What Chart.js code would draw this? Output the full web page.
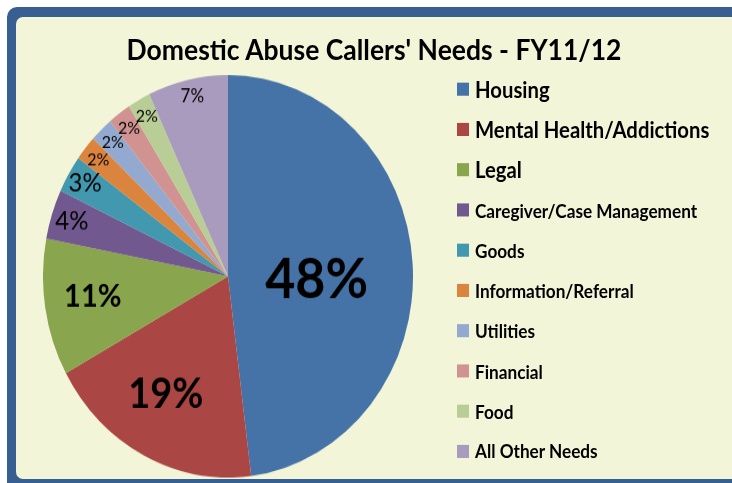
<!DOCTYPE html>
<html>
<head>
<meta charset="utf-8">
<title>Domestic Abuse Callers' Needs - FY11/12</title>
<script src="https://cdn.jsdelivr.net/npm/chart.js@4.4.1/dist/chart.umd.min.js"></script>
<style>
    html, body { margin: 0; padding: 0; width: 732px; height: 483px; overflow: hidden; background: #fff; }
    #frame { position: absolute; left: 7px; top: 7px; right: -12px; bottom: -12px; background: #375f91; border-radius: 10px; }
    #panel { position: absolute; left: 16px; top: 17px; right: -12px; bottom: 4px; background: #f3f5d8; border-radius: 7px; }
    /* the reference is stretched a little in height, so the whole drawing is too */
    #stage { position: absolute; left: 0; top: 0; width: 732px; height: 444px; transform-origin: 0 0; transform: scaleY(1.0878); font-family: Lato, sans-serif; }
    #title { position: absolute; left: 74px; width: 600px; top: 29.7px; text-align: center; font-weight: bold; font-size: 26.5px; line-height: 1.2; color: #000; }
    #pieWrap { position: absolute; left: 43px; top: 69px; width: 370px; height: 370px; }
    #legend { position: absolute; left: 457px; top: 64px; }
    .row { height: 36.96px; display: flex; align-items: center; line-height: 1; font-weight: bold; color: #000; white-space: nowrap; }
    .box { width: 12px; height: 12px; margin-right: 6px; flex: none; }
</style>
</head>
<body>
<div id="frame"></div>
<div id="panel"></div>
<div id="stage">
    <div id="title">Domestic Abuse Callers' Needs - FY11/12</div>
    <div id="pieWrap"><canvas id="pieChart"></canvas></div>
    <div id="legend"></div>
</div>
<script>
const categories = ['Housing', 'Mental Health/Addictions', 'Legal', 'Caregiver/Case Management', 'Goods',
    'Information/Referral', 'Utilities', 'Financial', 'Food', 'All Other Needs'];
const shares = [48, 19, 11, 4, 3, 2, 2, 2, 2, 7];

// styling
const sliceColors = ['#4572a7', '#aa4643', '#89a54e', '#71588f', '#4198af', '#db843d', '#93a9cf', '#d19392', '#b9cd96', '#a99bbd'];
const labelSizes = [52, 38, 29, 24, 24, 16, 16, 16, 16, 17];
const labelNudge = [[0, 9], [-5, -3], [0, -3], [4, 1], [2, 0], [0, 0], [0, 0], [0, 0], [0, 0], [1, -1]];
const legendSizes = [20.3, 20.3, 20.3, 17.2, 17.2, 17.2, 17.2, 17.2, 17.2, 17.2];

// percent labels inside the slices
const sliceLabels = {
    id: 'sliceLabels',
    afterDatasetsDraw(chart) {
        const ctx = chart.ctx;
        const meta = chart.getDatasetMeta(0);
        ctx.save();
        ctx.textAlign = 'center';
        ctx.textBaseline = 'middle';
        ctx.fillStyle = '#000';
        meta.data.forEach((arc, i) => {
            const { x, y, startAngle, endAngle, outerRadius } =
                arc.getProps(['x', 'y', 'startAngle', 'endAngle', 'outerRadius'], true);
            const mid = (startAngle + endAngle) / 2;
            const v = shares[i];
            const frac = v >= 40 ? 0.48 : v >= 15 ? 0.68 : v >= 10 ? 0.74 : 0.91;
            const px = x + Math.cos(mid) * outerRadius * frac + labelNudge[i][0];
            const py = y + Math.sin(mid) * outerRadius * frac + labelNudge[i][1];
            ctx.font = (v >= 10 ? 'bold ' : '') + labelSizes[i] + 'px Lato';
            ctx.fillText(v + '%', px, py);
        });
        ctx.restore();
    }
};

new Chart(document.getElementById('pieChart'), {
    type: 'pie',
    data: {
        labels: categories,
        datasets: [{
            data: shares,
            backgroundColor: sliceColors,
            borderWidth: 0
        }]
    },
    options: {
        responsive: true,
        maintainAspectRatio: false,
        animation: false,
        layout: { padding: 0 },
        plugins: {
            legend: { display: false },
            tooltip: { enabled: false }
        }
    },
    plugins: [sliceLabels]
});

// legend built from the same arrays
document.getElementById('legend').innerHTML = categories.map((c, i) =>
    `<div class="row" style="font-size:${legendSizes[i]}px"><span class="box" style="background:${sliceColors[i]}"></span>${c}</div>`
).join('');
</script>
</body>
</html>
